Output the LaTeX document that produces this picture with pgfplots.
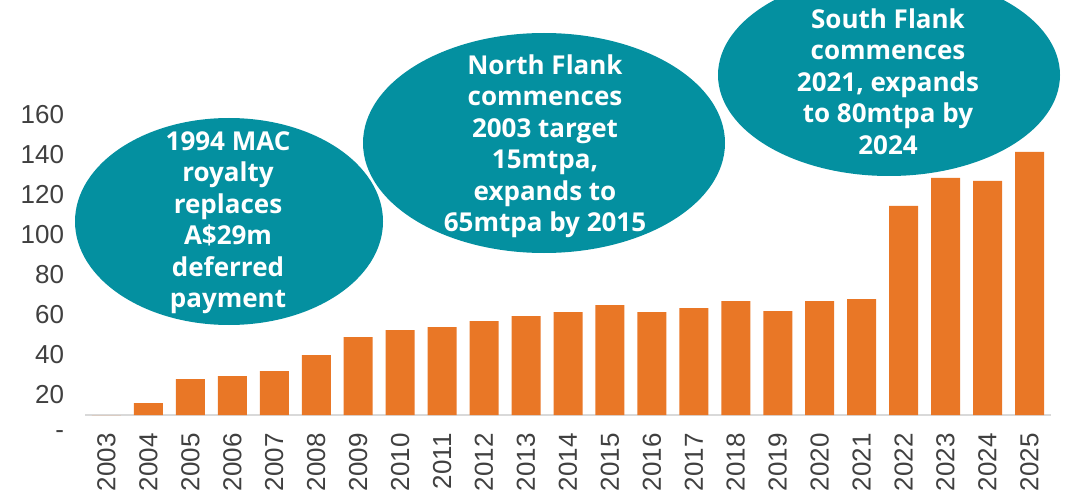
\documentclass[border=0pt]{standalone}
\usepackage{pgfplots}
\pgfplotsset{compat=1.18}
\usepackage{fontspec}
\setmainfont{Liberation Sans}
\newfontfamily\bubblefont{Open Sans}
\definecolor{barorange}{RGB}{233,119,38}
\definecolor{bubbleteal}{RGB}{4,144,160}
\definecolor{ticklab}{RGB}{64,64,64}
\definecolor{baseline}{RGB}{217,217,217}

\begin{document}
\begin{tikzpicture}
\begin{axis}[
    at={(42.75pt,-207.5pt)}, anchor=south west,
    scale only axis,
    width=482.5pt, height=207.5pt,
    xmin=2002.5, xmax=2025.5,
    ymin=0, ymax=207.5,
    ybar, bar width=14.5pt,
    axis x line*=bottom, axis y line*=left,
    x axis line style={draw=baseline, line width=1.2pt},
    y axis line style={draw=none},
    major tick length=0pt,
    xtick={2003,2004,...,2025},
    xticklabels={2003,2004,2005,2006,2007,2008,2009,2010,2011,2012,2013,2014,
        2015,2016,2017,2018,2019,2020,2021,2022,2023,2024,2025},
    xticklabel style={font=\fontsize{13}{15}\selectfont, text=ticklab,
        inner sep=0pt, yshift=-9pt, rotate=90, anchor=east},
    ytick={0,20,...,160},
    yticklabels={-,20,40,60,80,100,120,140,160},
    yticklabel style={font=\fontsize{13}{15}\selectfont, text=ticklab,
        inner sep=0pt, anchor=east, xshift=-10.5pt, yshift=-10pt},
    clip=false,
]
\addplot[fill=barorange, draw=none] coordinates {
    (2003,0) (2004,6) (2005,18) (2006,19.5) (2007,22) (2008,30)
    (2009,39) (2010,42.5) (2011,44) (2012,47) (2013,49.5) (2014,51.5)
    (2015,55) (2016,51.5) (2017,53.5) (2018,57) (2019,52) (2020,57)
    (2021,58) (2022,104.5) (2023,118.5) (2024,117) (2025,131.5)
};
\end{axis}

\begin{scope}[x=0.5pt, y=-0.5pt]
\fill[bubbleteal] (229,221.5) ellipse [x radius=154, y radius=103.5];
\fill[bubbleteal] (544,143) ellipse [x radius=181, y radius=110];
\fill[bubbleteal] (889,75) ellipse [x radius=171, y radius=101];
\tikzset{bubbletext/.style={text=white, align=center, inner sep=0pt,
    font=\bubblefont\bfseries\fontsize{13}{15.75}\selectfont}}
\node[bubbletext] at (228,222.5) {1994 MAC\\royalty\\replaces\\A\$29m\\deferred\\payment};
\node[bubbletext] at (545,146) {North Flank\\commences\\2003 target\\15mtpa,\\expands to\\65mtpa by 2015};
\node[bubbletext] at (888,81.5) {South Flank\\commences\\2021, expands\\to 80mtpa by\\2024};
\pgfresetboundingbox
\path (0,0) rectangle (1066,492);
\end{scope}
\end{tikzpicture}
\end{document}
